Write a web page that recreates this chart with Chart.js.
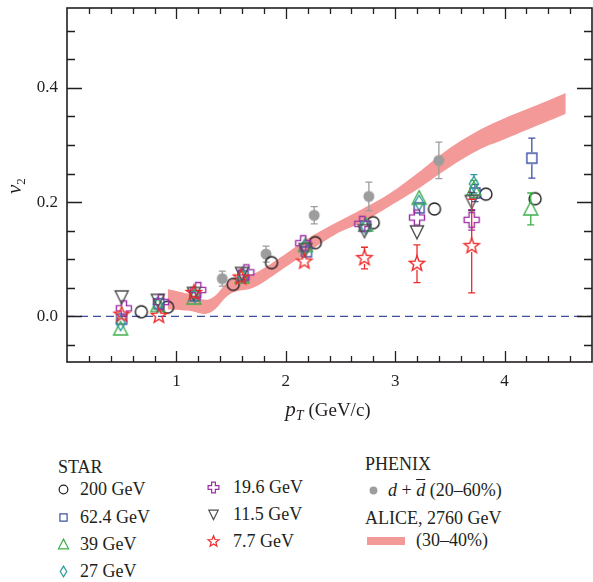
<!DOCTYPE html>
<html>
<head>
<meta charset="utf-8">
<script src="https://cdn.jsdelivr.net/npm/chart.js@4.4.1/dist/chart.umd.min.js"></script>
<style>
  body { margin: 0; width: 593px; height: 582px; overflow: hidden; background: #fff;
         font-family: "Liberation Serif", "DejaVu Serif", serif; color: #231f20; }
  #wrap { position: absolute; left: 0; top: 0; }
  .lg { position: absolute; font-size: 18px; line-height: 20px; white-space: nowrap; }
  .mk { position: absolute; }
  .ov { text-decoration: overline; }
</style>
</head>
<body>
<div id="wrap"><canvas id="c" width="600" height="425"></canvas></div>
<div id="legend"></div>
<script>
// axis ticks
const xTicks = [1, 2, 3, 4];
const yTicks = [0, 0.2, 0.4];

// STAR, by beam energy
const star200X = [0.68, 0.92, 1.52, 1.87, 2.27, 2.80, 3.36, 3.83, 4.28];
const star200V = [0.008, 0.016, 0.056, 0.094, 0.129, 0.164, 0.188, 0.214, 0.206];
const star200E = [0.003, 0.003, 0.003, 0.003, 0.003, 0.003, 0.004, 0.005, 0.006];

const star62X = [0.50, 0.84, 1.17, 1.61, 2.19, 2.73, 3.22, 3.73, 4.25];
const star62V = [-0.005, 0.022, 0.036, 0.071, 0.113, 0.158, 0.190, 0.216, 0.277];
const star62E = [0.008, 0.004, 0.004, 0.005, 0.006, 0.008, 0.012, 0.015, 0.035];

const star39X = [0.49, 0.83, 1.16, 1.60, 2.18, 2.73, 3.22, 3.72, 4.24];
const star39V = [-0.022, 0.019, 0.032, 0.069, 0.124, 0.160, 0.207, 0.223, 0.188];
const star39E = [0.012, 0.004, 0.004, 0.005, 0.006, 0.008, 0.010, 0.015, 0.028];

const star27X = [0.49, 0.83, 1.17, 1.60, 2.17, 2.73, 3.22, 3.72];
const star27V = [-0.012, 0.021, 0.037, 0.072, 0.120, 0.157, 0.199, 0.232];
const star27E = [0.008, 0.004, 0.004, 0.005, 0.006, 0.008, 0.010, 0.016];

const star19X = [0.52, 0.86, 1.20, 1.64, 2.16, 2.70, 3.20, 3.70];
const star19V = [0.014, 0.025, 0.046, 0.077, 0.128, 0.162, 0.173, 0.169];
const star19E = [0.006, 0.004, 0.004, 0.005, 0.006, 0.008, 0.012, 0.018];

const star11X = [0.50, 0.83, 1.16, 1.60, 2.18, 2.72, 3.20, 3.70];
const star11V = [0.034, 0.028, 0.040, 0.075, 0.117, 0.150, 0.148, 0.201];
const star11E = [0.006, 0.004, 0.004, 0.005, 0.006, 0.008, 0.012, 0.016];

const star7X = [0.50, 0.84, 1.16, 1.59, 2.17, 2.72, 3.20, 3.70];
const star7V = [0.003, 0.001, 0.041, 0.068, 0.096, 0.102, 0.092, 0.123];
const star7E = [0.006, 0.005, 0.005, 0.006, 0.009, 0.019, 0.033, 0.082];

// PHENIX d + dbar (20-60%)
const phenixX = [1.42, 1.82, 2.26, 2.76, 3.40];
const phenixV = [0.066, 0.109, 0.177, 0.210, 0.273];
const phenixE = [0.013, 0.014, 0.015, 0.025, 0.032];

// ALICE 2760 GeV (30-40%) band
const aliceX    = [0.92, 1.10, 1.30, 1.50, 1.70, 1.95, 2.20, 2.45, 2.70, 2.95, 3.20, 3.45, 3.75, 4.00, 4.30, 4.56];
const aliceHigh = [0.048, 0.040, 0.030, 0.064, 0.074, 0.103, 0.136, 0.163, 0.188, 0.215, 0.250, 0.288, 0.324, 0.347, 0.370, 0.391];
const aliceLow  = [0.012, 0.010, 0.006, 0.040, 0.050, 0.080, 0.112, 0.143, 0.165, 0.193, 0.222, 0.255, 0.290, 0.310, 0.334, 0.355];

const INK = '#231f20';
const FONT = '"Liberation Serif", "DejaVu Serif", serif';

function marker(shape, color, s, lw) {
  const size = Math.ceil(18 * s) + 4;
  const cv = document.createElement('canvas');
  cv.width = cv.height = size;
  const g = cv.getContext('2d');
  const c = size / 2;
  g.strokeStyle = color;
  g.fillStyle = color;
  g.lineWidth = lw;
  g.beginPath();
  const poly = pts => {
    pts.forEach((p, i) => i ? g.lineTo(c + p[0], c + p[1]) : g.moveTo(c + p[0], c + p[1]));
    g.closePath();
  };
  if (shape === 'circle') g.arc(c, c, 6 * s, 0, Math.PI * 2);
  else if (shape === 'dot') { g.arc(c, c, 5.5 * s, 0, Math.PI * 2); g.fill(); return cv; }
  else if (shape === 'square') g.rect(c - 5 * s, c - 5 * s, 10 * s, 10 * s);
  else if (shape === 'up') poly([[0, -7.5 * s], [7 * s, 6 * s], [-7 * s, 6 * s]]);
  else if (shape === 'down') poly([[-6.5 * s, -6 * s], [6.5 * s, -6 * s], [0, 7 * s]]);
  else if (shape === 'diamond') poly([[0, -7.5 * s], [4.5 * s, 0], [0, 7.5 * s], [-4.5 * s, 0]]);
  else if (shape === 'plus') {
    const a = 7.5 * s, b = 2.6 * s;
    poly([[-b, -a], [b, -a], [b, -b], [a, -b], [a, b], [b, b], [b, a], [-b, a], [-b, b], [-a, b], [-a, -b], [-b, -b]]);
  } else if (shape === 'star') {
    const pts = [];
    for (let k = 0; k < 10; k++) {
      const r = k % 2 ? 3.4 * s : 8 * s;
      const a = -Math.PI / 2 + k * Math.PI / 5;
      pts.push([r * Math.cos(a), r * Math.sin(a)]);
    }
    poly(pts);
  }
  g.stroke();
  return cv;
}

const series = [
  { label: '200 GeV',  x: star200X, v: star200V, e: star200E, shape: 'circle',  color: INK,       order: 8 },
  { label: '62.4 GeV', x: star62X,  v: star62V,  e: star62E,  shape: 'square',  color: '#3f51a5', order: 7 },
  { label: '39 GeV',   x: star39X,  v: star39V,  e: star39E,  shape: 'up',      color: '#3cae49', order: 6 },
  { label: '27 GeV',   x: star27X,  v: star27V,  e: star27E,  shape: 'diamond', color: '#2a9a9c', order: 5 },
  { label: '19.6 GeV', x: star19X,  v: star19V,  e: star19E,  shape: 'plus',    color: '#9c2fa5', order: 4 },
  { label: '11.5 GeV', x: star11X,  v: star11V,  e: star11E,  shape: 'down',    color: '#4d4d4d', order: 3 },
  { label: '7.7 GeV',  x: star7X,   v: star7V,   e: star7E,   shape: 'star',    color: '#ee2a2a', order: 1 },
  { label: 'PHENIX',   x: phenixX,  v: phenixV,  e: phenixE,  shape: 'dot',     color: '#9d9d9d', order: 9 }
];

const datasets = series.map(s => ({
  label: s.label,
  data: s.x.map((x, i) => ({ x: x, y: s.v[i] })),
  showLine: false,
  pointStyle: marker(s.shape, s.color, 1, 1.4),
  pointRadius: 7,
  pointHoverRadius: 7,
  order: s.order
}));

datasets.push({
  label: 'ALICE high',
  type: 'line',
  data: aliceX.map((x, i) => ({ x: x, y: aliceHigh[i] })),
  showLine: true, borderWidth: 0, pointRadius: 0, tension: 0.4,
  backgroundColor: '#f39a98', fill: '+1', order: 10
});
datasets.push({
  label: 'ALICE low',
  type: 'line',
  data: aliceX.map((x, i) => ({ x: x, y: aliceLow[i] })),
  showLine: true, borderWidth: 0, pointRadius: 0, tension: 0.4,
  fill: false, order: 10
});

// frame, inward ticks, zero line, error bars and axis titles
const decor = {
  id: 'decor',
  beforeDatasetsDraw(chart) {
    const { ctx, chartArea: a, scales: { y } } = chart;
    const y0 = y.getPixelForValue(0);
    ctx.save();
    ctx.strokeStyle = '#3b4ea0';
    ctx.lineWidth = 1.2;
    ctx.setLineDash([8, 5]);
    ctx.beginPath();
    ctx.moveTo(a.left, y0);
    ctx.lineTo(a.right, y0);
    ctx.stroke();
    ctx.restore();
  },
  beforeDatasetDraw(chart, args) {
    const s = series[args.index];
    if (!s) return;
    const { ctx, scales: { y } } = chart;
    ctx.save();
    ctx.strokeStyle = s.color;
    ctx.lineWidth = 1.3;
    const gap = s.shape === 'dot' ? 0 : 6;
    args.meta.data.forEach((pt, i) => {
      const hi = y.getPixelForValue(s.v[i] + s.e[i]);
      const lo = y.getPixelForValue(s.v[i] - s.e[i]);
      if (pt.y - hi <= gap + 1) return;
      ctx.beginPath();
      ctx.moveTo(pt.x, hi); ctx.lineTo(pt.x, pt.y - gap);
      ctx.moveTo(pt.x, pt.y + gap); ctx.lineTo(pt.x, lo);
      ctx.moveTo(pt.x - 3.5, hi); ctx.lineTo(pt.x + 3.5, hi);
      ctx.moveTo(pt.x - 3.5, lo); ctx.lineTo(pt.x + 3.5, lo);
      ctx.stroke();
    });
    ctx.restore();
  },
  afterDraw(chart) {
    const { ctx, chartArea: a, scales: { x, y } } = chart;
    ctx.save();
    ctx.strokeStyle = INK;
    ctx.lineWidth = 1.6;
    ctx.strokeRect(a.left, a.top, a.right - a.left, a.bottom - a.top);
    ctx.lineWidth = 1.3;
    ctx.beginPath();
    for (let v = 0.2; v < x.max; v += 0.2) {
      const major = Math.abs(v - Math.round(v)) < 1e-6;
      const px = Math.round(x.getPixelForValue(v)) + 0.5;
      const len = major ? 11 : 6;
      ctx.moveTo(px, a.bottom); ctx.lineTo(px, a.bottom - len);
      ctx.moveTo(px, a.top); ctx.lineTo(px, a.top + len);
    }
    for (let k = Math.ceil(y.min / 0.05); k * 0.05 < y.max; k++) {
      const v = k * 0.05;
      const major = k % 4 === 0;
      const py = Math.round(y.getPixelForValue(v)) + 0.5;
      const len = major ? 15 : 8;
      ctx.moveTo(a.left, py); ctx.lineTo(a.left + len, py);
      ctx.moveTo(a.right, py); ctx.lineTo(a.right - len, py);
    }
    ctx.stroke();

    // x title: p_T (GeV/c)
    ctx.fillStyle = INK;
    ctx.textBaseline = 'alphabetic';
    const fP = 'italic 21px ' + FONT, fT = 'italic 14px ' + FONT, fU = '19px ' + FONT;
    ctx.font = fP; const wP = ctx.measureText('p').width;
    ctx.font = fT; const wT = ctx.measureText('T').width;
    ctx.font = fU; const wU = ctx.measureText(' (GeV/c)').width;
    let tx = 328 - (wP + wT + wU) / 2;
    const ty = 416;
    ctx.font = fP; ctx.fillText('p', tx, ty); tx += wP;
    ctx.font = fT; ctx.fillText('T', tx, ty + 4); tx += wT;
    ctx.font = fU; ctx.fillText(' (GeV/c)', tx, ty);

    // y title: v_2
    ctx.translate(21, 186);
    ctx.rotate(-Math.PI / 2);
    ctx.font = 'italic 21px ' + FONT;
    const wv = ctx.measureText('v').width;
    ctx.fillText('v', -8, 0);
    ctx.font = '13px ' + FONT;
    ctx.fillText('2', -8 + wv, 4);
    ctx.restore();
  }
};

// keep the tick labels from pushing the plot frame inwards
const noLabelPadding = s => {
  s.paddingTop = 0; s.paddingBottom = 0; s.paddingLeft = 0; s.paddingRight = 0;
};

new Chart(document.getElementById('c'), {
  type: 'scatter',
  data: { datasets: datasets },
  options: {
    responsive: false,
    animation: false,
    layout: { padding: { top: 6, right: 2.3, left: 0, bottom: 0 } },
    plugins: { legend: { display: false }, tooltip: { enabled: false } },
    scales: {
      x: {
        type: 'linear', min: 0, max: 4.8,
        grid: { display: false, drawTicks: false },
        border: { display: false },
        ticks: { color: INK, font: { family: FONT, size: 17 }, padding: 9, callback: v => String(v) },
        afterBuildTicks: s => { s.ticks = xTicks.map(v => ({ value: v })); },
        afterFit: s => { s.height = 63; noLabelPadding(s); }
      },
      y: {
        type: 'linear', min: -0.08, max: 0.54,
        grid: { display: false, drawTicks: false },
        border: { display: false },
        ticks: { color: INK, font: { family: FONT, size: 17 }, padding: 9, callback: v => v.toFixed(1) },
        afterBuildTicks: s => { s.ticks = yTicks.map(v => ({ value: v })); },
        afterFit: s => { s.width = 67; noLabelPadding(s); }
      }
    }
  },
  plugins: [decor]
});

// legend below the plot
const legend = document.getElementById('legend');
function text(html, left, cy) {
  const d = document.createElement('div');
  d.className = 'lg';
  d.style.left = left + 'px';
  d.style.top = (cy - 10) + 'px';
  d.innerHTML = html;
  legend.appendChild(d);
}
function mark(s, cx, cy) {
  const cv = marker(s.shape, s.color, 0.72, 1.2);
  cv.className = 'mk';
  cv.style.left = (cx - cv.width / 2) + 'px';
  cv.style.top = (cy - cv.height / 2) + 'px';
  legend.appendChild(cv);
}
text('STAR', 58, 467);
const legendSpots = [
  [63, 80, 489], [63, 80, 517], [63, 80, 544], [63, 80, 571],
  [213, 233, 487], [213, 233, 514], [213, 233, 541]
];
legendSpots.forEach((p, i) => {
  mark(series[i], p[0], p[2]);
  text(series[i].label, p[1], p[2]);
});
text('PHENIX', 365, 464);
mark({ shape: 'dot', color: '#9d9d9d' }, 373, 490);
text('<i>d</i> + <i class="ov">d</i> (20–60%)', 388, 490);
text('ALICE, 2760 GeV', 365, 518);
const sw = document.createElement('div');
sw.style.cssText = 'position:absolute;left:367px;top:537px;width:38px;height:8px;background:#f39a98;';
legend.appendChild(sw);
text('(30–40%)', 416, 540);
</script>
</body>
</html>
